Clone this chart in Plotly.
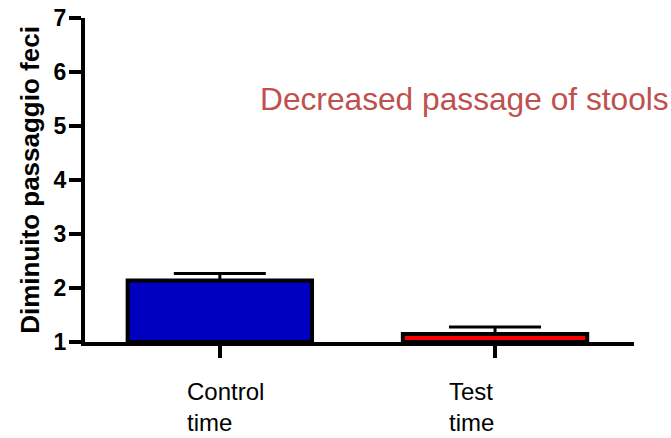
import plotly.graph_objects as go

categories = ["Control time", "Test time"]
tick_lines = [["Control", "time"], ["Test", "time"]]
values = [2.14, 1.15]
errors = [0.13, 0.13]
baseline = 1
bar_colors = ["#0000C0", "#FF0000"]
y_ticks = [1, 2, 3, 4, 5, 6, 7]
y_title = "Diminuito passaggio feci"
note = "Decreased passage of stools"

FONT = "Liberation Sans, Arial, sans-serif"

fig = go.Figure()
fig.add_trace(go.Bar(
    x=list(range(len(categories))),
    y=[v - baseline for v in values],
    base=baseline,
    width=0.67,
    marker=dict(color=bar_colors, line=dict(color="black", width=4)),
    error_y=dict(type="data", symmetric=False, array=errors,
                 arrayminus=[0] * len(errors),
                 color="black", thickness=3, width=46),
    showlegend=False,
    hoverinfo="skip",
))

# category labels (left-aligned two-line text like the original)
shifts = [6, -24]
for i, lines in enumerate(tick_lines):
    fig.add_annotation(
        x=i, xref="x", y=-0.105, yref="paper",
        text="<br>".join(lines), showarrow=False,
        xanchor="center", yanchor="top", align="left",
        xshift=shifts[i],
        font=dict(family=FONT, size=24, color="black"),
    )

fig.add_annotation(
    x=0.315, xref="paper", y=5.5, yref="y",
    text=note, showarrow=False, xanchor="left", yanchor="middle",
    font=dict(family=FONT, size=31.7, color="#C0504D"),
)

fig.update_layout(
    width=671, height=438,
    margin=dict(l=85, r=37, t=18, b=96),
    paper_bgcolor="white", plot_bgcolor="white",
    font=dict(family=FONT, color="black"),
    xaxis=dict(
        range=[-0.49, 1.505], tickvals=[0, 1], showticklabels=False,
        showline=True, linewidth=4, linecolor="black",
        ticks="outside", ticklen=12, tickwidth=4, tickcolor="black",
        showgrid=False, zeroline=False,
    ),
    yaxis=dict(
        range=[1, 7], tickvals=y_ticks,
        showline=True, linewidth=4, linecolor="black",
        ticks="outside", ticklen=12, tickwidth=4, tickcolor="black",
        tickfont=dict(family=FONT, size=23, weight="bold"),
        ticklabelstandoff=-2,
        showgrid=False, zeroline=False,
        title=dict(text=y_title, standoff=8,
                   font=dict(family=FONT, size=26, weight="bold")),
        automargin=False,
    ),
)

fig.write_html("out.html")
